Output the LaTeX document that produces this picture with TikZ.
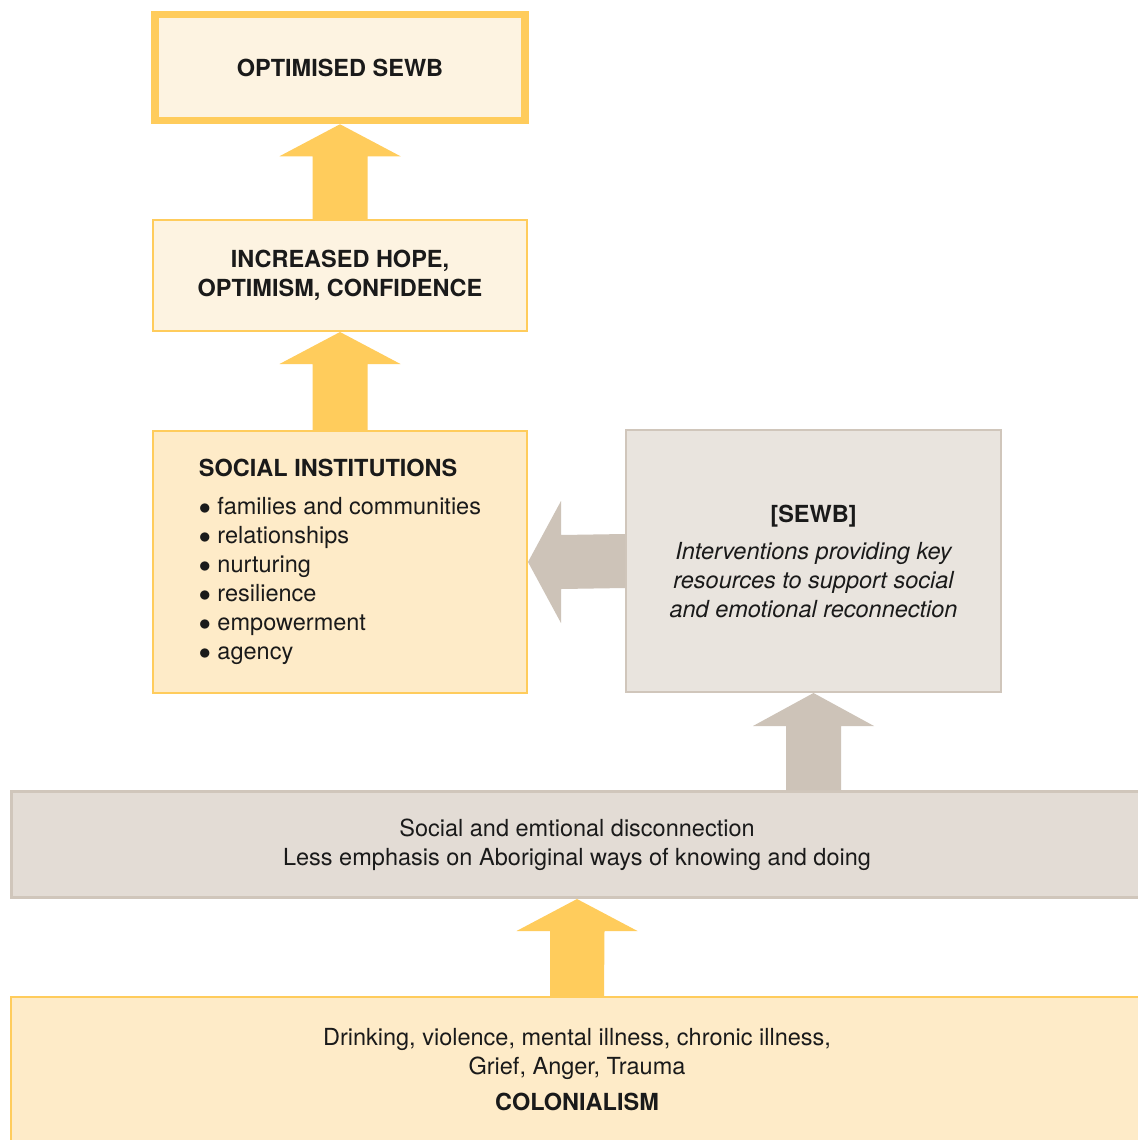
\documentclass[tikz,border=0pt]{standalone}
\usepackage{fontspec}
\setmainfont{TeX Gyre Heros}
\usetikzlibrary{calc}
\definecolor{sewbyellow}{HTML}{FFCC5C}
\definecolor{palecream}{HTML}{FDF3E1}
\definecolor{cream}{HTML}{FEEBC8}
\definecolor{stoneline}{HTML}{D0C6BB}
\definecolor{stonearrow}{HTML}{CDC3B8}
\definecolor{stonelight}{HTML}{E9E4DE}
\definecolor{stone}{HTML}{E3DCD5}
\definecolor{inkdark}{HTML}{1A1A1A}
\begin{document}
\begin{tikzpicture}[x=0.5pt, y=-0.5pt,
    box/.style ={rectangle, draw, inner sep=0pt, align=center, text=inkdark,
                 font=\fontsize{11.75}{14.5}\selectfont},
    yellowbox/.style ={box, draw=sewbyellow, line width=1pt},
    stonebox/.style ={box, draw=stoneline, line width=1pt},
    yellowarrow/.style ={fill=sewbyellow},
    stonearrow/.style ={fill=stonearrow}]
   \useasboundingbox (0,0) rectangle (1137,1140);
   \fill[white] (0,0) rectangle (1137,1140);

   \node[yellowbox, line width=3.75pt, fill=palecream, minimum width=185pt, minimum height=53pt]
        (opt) at (340,67.5) {\bfseries OPTIMISED SEWB};
   \node[yellowbox, fill=palecream, minimum width=187pt, minimum height=55.5pt]
        (hope) at (340,275.5) {\bfseries INCREASED HOPE,\\ \bfseries OPTIMISM, CONFIDENCE};
   \node[yellowbox, fill=cream, align=left, minimum width=187pt, minimum height=131pt]
        (soc) at (340,562) {\bfseries SOCIAL INSTITUTIONS\\[4.5pt]
        $\bullet$\ families and communities\\
        $\bullet$\ relationships\\
        $\bullet$\ nurturing\\
        $\bullet$\ resilience\\
        $\bullet$\ empowerment\\
        $\bullet$\ agency};
   \node[stonebox, fill=stonelight, minimum width=187.5pt, minimum height=131pt]
        (sewb) at (813.5,561) {\bfseries [SEWB]\\[4pt]
        \itshape Interventions providing key\\
        \itshape resources to support social\\
        \itshape and emotional reconnection};
   \node[stonebox, line width=1.5pt, fill=stone, minimum width=565.5pt, minimum height=53pt]
        (discon) at (577,844.5) {Social and emtional disconnection\\
        Less emphasis on Aboriginal ways of knowing and doing};
   \node[yellowbox, fill=cream, minimum width=566pt, minimum height=73pt]
        (colon) at (577,1070) {Drinking, violence, mental illness, chronic illness,\\
        Grief, Anger, Trauma\\[3.5pt]
        \bfseries COLONIALISM};

   % block arrows
   \fill[yellowarrow] (opt.south) -- ++(60.5,32) -- ++(-33,0)
        -- ($(hope.north)+(27.5,0)$) -- ($(hope.north)+(-27.5,0)$)
        -- ($(opt.south)+(-27.5,32)$) -- ++(-33,0) -- cycle;
   \fill[yellowarrow] (hope.south) -- ++(60.5,32) -- ++(-33,0)
        -- ($(soc.north)+(27.5,0)$) -- ($(soc.north)+(-27.5,0)$)
        -- ($(hope.south)+(-27.5,32)$) -- ++(-33,0) -- cycle;
   \fill[stonearrow] (soc.east) -- ++(33,-61) -- ++(0,34)
        -- ($(sewb.west)+(0,-27)$) -- ($(sewb.west)+(0,27)$)
        -- ($(soc.east)+(33,27)$) -- ++(0,34) -- cycle;
   \fill[stonearrow] (sewb.south) -- ++(60.5,33) -- ++(-33,0)
        -- ($(sewb.south |- discon.north)+(27.5,0)$) -- ($(sewb.south |- discon.north)+(-27.5,0)$)
        -- ($(sewb.south)+(-27.5,33)$) -- ++(-33,0) -- cycle;
   \fill[yellowarrow] (discon.south) -- ++(60.5,32) -- ++(-33,0)
        -- ($(colon.north)+(27,0)$) -- ($(colon.north)+(-27,0)$)
        -- ($(discon.south)+(-27,32)$) -- ++(-33.5,0) -- cycle;
 \end{tikzpicture}
\end{document}
